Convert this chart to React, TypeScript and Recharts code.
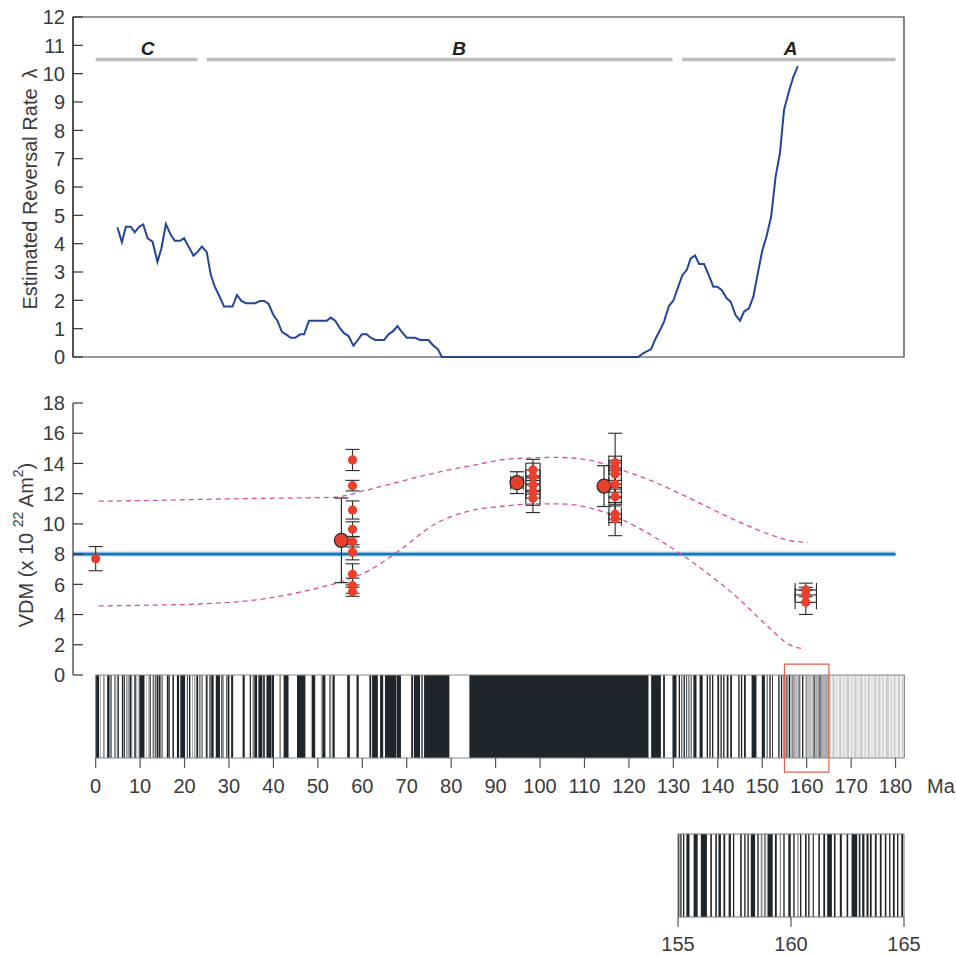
import React from "react";
import {
  ComposedChart,
  ErrorBar,
  Line,
  ReferenceArea,
  ReferenceLine,
  Scatter,
  XAxis,
  YAxis,
} from "recharts";

const FONT = "'Liberation Sans', Arial, Helvetica, sans-serif";
const INK = "#333";
const TEXT = "#3a3a3a";
const BAR = "#1f262b";
const AGE_DOMAIN: [number, number] = [-5.1, 181.9];

// estimated reversal rate (per Myr) against age (Ma)
const rateAge = [
  4.9, 5.9, 6.8, 7.9, 8.8, 9.8, 10.7, 11.7, 12.8, 13.9, 14.8, 15.8, 16.9, 17.8, 19.0, 19.9, 21.0, 22.0,
  22.9, 23.9, 25.0, 25.9, 26.8, 27.8, 28.9, 29.8, 30.8, 31.8, 32.8, 33.8, 34.9, 35.9, 37.0, 37.9, 38.9,
  40.0, 40.9, 41.9, 43.0, 43.9, 44.9, 46.0, 46.9, 48.0, 49.0, 50.0, 50.9, 52.0, 52.9, 53.9, 55.0, 55.9,
  56.9, 58.0, 59.0, 59.9, 61.0, 61.9, 62.9, 64.0, 64.9, 65.9, 67.0, 67.9, 68.9, 70.0, 70.9, 71.9, 73.0,
  73.9, 74.9, 76.0, 77.0, 77.9, 122.1, 123.2, 125.0, 125.9, 127.0, 127.9, 129.0, 130.0, 130.9, 132.0,
  133.0, 133.9, 134.9, 135.8, 136.9, 137.8, 139.0, 139.9, 140.9, 142.0, 142.9, 144.0, 145.0, 145.9,
  147.0, 148.0, 149.0, 150.0, 151.0, 152.0, 153.0, 154.0, 154.9, 156.0, 157.0, 158.0,
];
const rateValue = [
  4.58, 4.05, 4.6, 4.6, 4.4, 4.6, 4.68, 4.19, 4.07, 3.36, 3.84, 4.69, 4.31, 4.1, 4.1, 4.19, 3.87, 3.58,
  3.7, 3.9, 3.7, 2.9, 2.48, 2.16, 1.78, 1.78, 1.78, 2.19, 1.98, 1.9, 1.9, 1.9, 1.98, 1.98, 1.88,
  1.48, 1.28, 0.89, 0.78, 0.68, 0.68, 0.8, 0.8, 1.28, 1.28, 1.28, 1.28, 1.28, 1.39, 1.28, 1.01, 0.84,
  0.74, 0.4, 0.6, 0.8, 0.8, 0.68, 0.6, 0.6, 0.6, 0.8, 0.92, 1.09, 0.89, 0.68, 0.68, 0.68, 0.6,
  0.6, 0.6, 0.4, 0.28, 0, 0, 0.13, 0.28, 0.62, 0.95, 1.25, 1.8, 1.99, 2.39, 2.88,
  3.07, 3.48, 3.58, 3.28, 3.28, 2.95, 2.48, 2.48, 2.36, 2.07, 1.95, 1.48, 1.28, 1.6,
  1.72, 2.13, 2.95, 3.75, 4.28, 4.95, 6.36, 7.21, 8.72, 9.37, 9.89, 10.27,
];
const rateTicks = [0, 1, 2, 3, 4, 5, 6, 7, 8, 9, 10, 11, 12];

const phaseNames = ["C", "B", "A"];
const phaseStart = [0, 25, 132];
const phaseEnd = [22.9, 129.8, 180];
const phaseLabelAge = [11.7, 81.8, 156.4];
const phaseLevel = 10.5;
const phaseLabelLevel = 10.9;

// VDM (x 10^22 Am^2)
const vdmTicks = [0, 2, 4, 6, 8, 10, 12, 14, 16, 18];
const meanVdm = 8;
const meanAgeSpan = [AGE_DOMAIN[0], 180];

const upperAge = [0.7, 12, 23.5, 35, 46, 53.4, 61, 68.5, 76, 84.4, 93.4, 103.5, 111.4, 118, 124.7, 131.5, 138.2, 145, 151.7, 156.2, 160.3];
const upperVdm = [11.5, 11.55, 11.62, 11.68, 11.72, 11.76, 12.24, 12.8, 13.35, 13.85, 14.3, 14.4, 14.2, 13.6, 12.9, 12.0, 11.05, 10.1, 9.3, 8.9, 8.78];
const lowerAge = [0.7, 12, 23.5, 38.5, 49.7, 56.5, 61, 68.5, 76, 83.5, 91, 99.2, 104.5, 114.2, 121.7, 129.2, 136.7, 144.2, 151.7, 156.2, 159.5];
const lowerVdm = [4.57, 4.62, 4.7, 5.07, 5.74, 6.29, 6.84, 8.27, 9.93, 10.81, 11.15, 11.32, 11.32, 10.8, 9.81, 8.49, 6.95, 5.18, 3.09, 1.99, 1.72];

const dotAge = [0, 57.8, 57.8, 57.8, 57.8, 57.8, 57.8, 57.8, 57.8, 57.8, 98.4, 98.4, 98.4, 98.4, 98.4, 116.9, 116.9, 116.9, 116.9, 116.9, 116.9, 116.9, 159.8, 159.8, 159.8];
const dotVdm = [7.7, 14.23, 12.53, 10.92, 9.64, 8.82, 8.12, 6.66, 5.91, 5.51, 13.57, 13.12, 12.57, 12.13, 11.7, 14.05, 13.68, 13.3, 12.62, 11.8, 10.64, 10.32, 5.63, 5.3, 4.81];
const dotVdmErr = [0.8, 0.7, 0.35, 0.6, 0.5, 0.35, 0.5, 0.7, 0.5, 0.3, 0.7, 0.9, 0.6, 0.9, 0.95, 1.95, 0.8, 0.9, 0.9, 0.5, 0.55, 1.1, 0.45, 0.5, 0.8];
const dotAgeErr = [0, 0, 0, 0, 0, 0, 0, 0, 0, 0, 1.6, 1.6, 1.6, 1.6, 1.6, 1.4, 1.4, 1.4, 1.4, 1.4, 1.4, 1.4, 2.4, 2.4, 2.4];

const bigAge = [55.3, 94.8, 114.4];
const bigVdm = [8.91, 12.73, 12.5];
const bigVdmErr = [2.8, 0.72, 1.35];
const bigAgeErr = [0, 1.4, 0];

// polarity: normal intervals (Ma)
const normalChrons: [number, number][] = [
  [0, 0.78], [0.99, 1.07], [1.77, 1.95], [2.58, 3.04], [3.11, 3.22], [3.33, 3.58], [4.18, 4.29], [4.48, 4.62],
  [4.8, 4.89], [4.98, 5.23], [5.89, 6.14], [6.27, 6.57], [6.94, 7.09], [7.14, 7.17], [7.34, 7.38], [7.43, 7.56],
  [7.65, 8.07], [8.23, 8.26], [8.7, 9.03], [9.23, 9.31], [9.58, 9.64], [9.74, 9.88], [9.92, 10.95], [11.05, 11.1],
  [11.48, 11.53], [11.94, 12.08], [12.18, 12.4], [12.68, 12.71], [12.78, 12.82], [12.99, 13.14], [13.3, 13.51],
  [13.7, 14.08], [14.18, 14.61], [14.8, 14.89], [15.03, 15.16], [16.01, 16.29], [16.33, 16.49], [16.56, 16.73],
  [17.28, 17.62], [18.28, 18.78], [19.05, 20.13], [20.52, 20.73], [21.0, 21.32], [21.77, 21.86], [22.15, 22.25],
  [22.46, 22.49], [22.59, 22.75], [22.8, 23.07], [23.35, 23.54], [23.68, 23.8], [24.0, 24.12], [24.73, 24.78],
  [24.84, 25.18], [25.5, 25.65], [25.82, 25.95], [25.99, 26.55], [27.03, 27.97], [28.28, 28.51], [28.58, 28.75],
  [29.4, 29.66], [29.77, 30.1], [30.48, 30.94], [33.06, 33.55], [34.66, 34.94], [35.34, 35.53], [35.69, 36.34],
  [36.62, 37.47], [37.6, 37.85], [37.92, 38.11], [38.43, 39.55], [39.63, 40.13], [41.4, 41.6], [42.3, 43.4],
  [45.3, 47.2], [48.6, 49.4], [50.7, 50.8], [51.0, 51.7], [52.6, 52.8], [52.9, 53.0], [53.3, 53.8],
  [56.6, 57.2], [58.7, 59.2], [61.6, 62.0], [62.2, 63.5], [64.0, 64.7], [65.1, 67.7], [67.8, 68.7],
  [71.0, 71.4], [71.6, 73.0], [73.3, 73.6], [73.9, 79.6], [84.1, 124.4],
  [125.0, 127.2], [127.7, 128.1], [129.8, 130.7], [131.2, 131.5], [131.8, 132.0], [132.3, 132.6], [132.9, 133.1],
  [133.4, 133.6], [133.9, 134.1], [134.5, 135.2], [135.9, 136.6], [137.5, 137.8], [138.1, 138.4], [138.7, 139.0],
  [139.9, 140.3], [140.6, 140.9], [141.2, 141.5], [142.0, 142.4], [142.8, 143.2], [144.6, 144.9], [145.2, 145.5],
  [145.9, 146.3], [147.6, 148.7], [149.9, 150.6], [151.0, 151.2], [151.6, 151.9], [152.2, 152.4], [153.6, 153.9],
  [154.2, 154.5], [154.8, 155.0],
];

// detailed chrons for the 155-165 Ma window (inset)
const insetChrons: [number, number][] = [
  [155.0, 155.06], [155.1, 155.16], [155.22, 155.28], [155.37, 155.51], [155.69, 155.87], [156.01, 156.28],
  [156.43, 156.5], [156.65, 156.72], [156.79, 156.9], [157.01, 157.09], [157.24, 157.34], [157.43, 157.49],
  [157.75, 157.82], [157.93, 157.99], [158.07, 158.13], [158.22, 158.41], [158.51, 158.57], [158.96, 159.19],
  [159.29, 159.37], [159.66, 159.72], [159.88, 159.99], [160.1, 160.16], [160.4, 160.46], [160.62, 160.69],
  [160.76, 160.82], [160.96, 161.01], [161.21, 161.28], [161.43, 161.51], [161.6, 161.81], [161.9, 161.97],
  [162.16, 162.25], [162.46, 162.53], [162.68, 162.93], [163.0, 163.07], [163.15, 163.25], [163.34, 163.43],
  [163.49, 163.57], [163.71, 163.79], [163.93, 164.01], [164.15, 164.22], [164.34, 164.4], [164.51, 164.59],
  [164.69, 164.75], [164.88, 164.96],
];
const insetGreyChrons: [number, number][] = [
  [158.66, 158.74], [158.8, 158.9], [159.5, 159.56], [160.28, 160.34],
];

// uncertain (light) stripes beyond 165 Ma
const quietChrons: [number, number][] = [
  [165.0, 165.4], [165.8, 166.3], [166.7, 166.9], [167.3, 167.8], [168.2, 168.5], [168.9, 169.6], [170.0, 170.3],
  [170.7, 171.2], [171.5, 171.7], [172.0, 172.6], [173.0, 173.3], [173.7, 174.2], [174.6, 174.8], [175.2, 175.7],
  [176.1, 176.6], [177.0, 177.3], [177.8, 178.5], [178.9, 179.2], [179.6, 180.0], [180.5, 181.0], [181.4, 181.8],
];
const barSpan = [0, 182];
const ageTicks = [0, 10, 20, 30, 40, 50, 60, 70, 80, 90, 100, 110, 120, 130, 140, 150, 160, 170, 180];
const insetRange: [number, number] = [155, 165];
const insetTicks = [155, 160, 165];

const rateData = rateAge.map((x, i) => ({ x, y: rateValue[i] }));
const phaseLabels = phaseNames.map((name, i) => ({ x: phaseLabelAge[i], y: phaseLabelLevel, name }));
const upperData = upperAge.map((x, i) => ({ x, y: upperVdm[i] }));
const lowerData = lowerAge.map((x, i) => ({ x, y: lowerVdm[i] }));
const dotData = dotAge.map((x, i) => ({
  x,
  y: dotVdm[i],
  ey: dotVdmErr[i],
  ex: dotAgeErr[i] > 0 ? dotAgeErr[i] : undefined,
}));
const bigData = bigAge.map((x, i) => ({
  x,
  y: bigVdm[i],
  ey: bigVdmErr[i],
  ex: bigAgeErr[i] > 0 ? bigAgeErr[i] : undefined,
}));
// corner points so the strip charts get a y scale
const barFrame = [
  { x: barSpan[0], y: 0 },
  { x: barSpan[1], y: 1 },
];
const insetFrame = [
  { x: insetRange[0], y: 0 },
  { x: insetRange[1], y: 1 },
];

function YTick(props: any) {
  const { x, y, payload } = props;
  return (
    <g>
      <line x1={x + 8} x2={x + 18} y1={y} y2={y} stroke={INK} strokeWidth={1.2} />
      <text x={x} y={y} dy="0.36em" textAnchor="end" fontSize={20} fill={TEXT} fontFamily={FONT}>
        {payload.value}
      </text>
    </g>
  );
}

function XTick(props: any) {
  const { x, y, payload } = props;
  return (
    <g>
      <line x1={x} x2={x} y1={y} y2={y + 10} stroke="#555" strokeWidth={1.2} />
      <text x={x} y={y + 28} dy="0.36em" textAnchor="middle" fontSize={20} fill={TEXT} fontFamily={FONT}>
        {payload.value}
      </text>
    </g>
  );
}

function InsetTick(props: any) {
  const { x, y, payload } = props;
  return (
    <g>
      <line x1={x} x2={x} y1={y} y2={y + 10} stroke="#555" strokeWidth={1.2} />
      <text x={x} y={y + 27} dy="0.36em" textAnchor="middle" fontSize={20} fill={TEXT} fontFamily={FONT}>
        {payload.value}
      </text>
    </g>
  );
}

function RateTitle(props: any) {
  const vb = props.viewBox ?? { x: 0, y: 17, width: 73, height: 340 };
  const cx = vb.x + 30;
  const cy = vb.y + vb.height / 2 + 2;
  return (
    <text
      x={cx}
      y={cy}
      transform={`rotate(-90 ${cx} ${cy})`}
      textAnchor="middle"
      dominantBaseline="central"
      fontSize={20}
      fill={TEXT}
      fontFamily={FONT}
    >
      Estimated Reversal Rate{"\u2002"}λ
    </text>
  );
}

function VdmTitle(props: any) {
  const vb = props.viewBox ?? { x: 0, y: 403, width: 73, height: 272 };
  const cx = vb.x + 26;
  const cy = vb.y + vb.height / 2 + 6;
  return (
    <text
      x={cx}
      y={cy}
      transform={`rotate(-90 ${cx} ${cy})`}
      textAnchor="middle"
      dominantBaseline="central"
      fontSize={20}
      fill={TEXT}
      fontFamily={FONT}
    >
      VDM (x 10 <tspan fontSize={14} dy={-8}>22</tspan>
      <tspan dy={8}> Am</tspan>
      <tspan fontSize={14} dy={-8}>2</tspan>
      <tspan dy={8}>)</tspan>
    </text>
  );
}

function MaTitle(props: any) {
  const vb = props.viewBox ?? { x: 73, y: 758, width: 831, height: 42 };
  return (
    <text x={vb.x + vb.width + 23} y={vb.y + 28} dy="0.36em" fontSize={20} fill={TEXT} fontFamily={FONT}>
      Ma
    </text>
  );
}

function PhaseText(props: any) {
  const { cx, cy, payload } = props;
  return (
    <text x={cx} y={cy} dy="0.36em" textAnchor="middle" fontSize={19} fontWeight="bold" fontStyle="italic" fill="#222" fontFamily={FONT}>
      {payload.name}
    </text>
  );
}

function SmallDot(props: any) {
  const { cx, cy } = props;
  return <circle cx={cx} cy={cy} r={4.6} fill="#e8402c" />;
}

function BigDot(props: any) {
  const { cx, cy } = props;
  return <circle cx={cx} cy={cy} r={7} fill="#e8402c" stroke="#2b2b2b" strokeWidth={1.3} />;
}

function Blank() {
  return <g />;
}

function RateChart() {
  return (
    <ComposedChart width={956} height={380} margin={{ top: 17, right: 52, bottom: 23, left: 0 }}>
      <XAxis type="number" dataKey="x" domain={AGE_DOMAIN} allowDataOverflow hide />
      <YAxis
        type="number"
        dataKey="y"
        domain={[0, 12]}
        ticks={rateTicks}
        interval={0}
        width={73}
        tickSize={0}
        tickMargin={8}
        tickLine={false}
        axisLine={{ stroke: INK, strokeWidth: 1.2 }}
        tick={<YTick />}
        label={RateTitle}
      />
      <ReferenceArea
        x1={AGE_DOMAIN[0]}
        x2={AGE_DOMAIN[1]}
        y1={0}
        y2={12}
        fill="none"
        fillOpacity={0}
        stroke={INK}
        strokeWidth={1.2}
        ifOverflow="visible"
      />
      {phaseNames.map((name, i) => (
        <ReferenceLine
          key={name}
          segment={[
            { x: phaseStart[i], y: phaseLevel },
            { x: phaseEnd[i], y: phaseLevel },
          ]}
          stroke="#bdbdbd"
          strokeWidth={3.5}
          ifOverflow="visible"
        />
      ))}
      <Scatter data={phaseLabels} dataKey="y" shape={<PhaseText />} isAnimationActive={false} />
      <Line
        data={rateData}
        dataKey="y"
        type="linear"
        stroke="#23449a"
        strokeWidth={2}
        dot={false}
        activeDot={false}
        isAnimationActive={false}
      />
    </ComposedChart>
  );
}

function VdmChart() {
  return (
    <ComposedChart width={956} height={320} margin={{ top: 23, right: 52, bottom: 25, left: 0 }}>
      <XAxis type="number" dataKey="x" domain={AGE_DOMAIN} allowDataOverflow hide />
      <YAxis
        type="number"
        dataKey="y"
        domain={[0, 18]}
        ticks={vdmTicks}
        interval={0}
        width={73}
        tickSize={0}
        tickMargin={8}
        tickLine={false}
        axisLine={{ stroke: INK, strokeWidth: 1.2 }}
        tick={<YTick />}
        label={VdmTitle}
        allowDataOverflow
      />
      <ReferenceLine
        segment={[
          { x: meanAgeSpan[0], y: meanVdm },
          { x: meanAgeSpan[1], y: meanVdm },
        ]}
        stroke="#b3d5ef"
        strokeWidth={5}
        ifOverflow="visible"
      />
      <ReferenceLine
        segment={[
          { x: meanAgeSpan[0], y: meanVdm },
          { x: meanAgeSpan[1], y: meanVdm },
        ]}
        stroke="#1778c0"
        strokeWidth={2.6}
        ifOverflow="visible"
      />
      <Line data={upperData} dataKey="y" type="monotone" stroke="#d94da3" strokeWidth={1.3} strokeDasharray="5 4" dot={false} activeDot={false} isAnimationActive={false} />
      <Line data={lowerData} dataKey="y" type="monotone" stroke="#d94da3" strokeWidth={1.3} strokeDasharray="5 4" dot={false} activeDot={false} isAnimationActive={false} />
      <Scatter data={bigData} dataKey="y" shape={<BigDot />} isAnimationActive={false}>
        <ErrorBar dataKey="ey" direction="y" width={7} stroke="#2b2b2b" strokeWidth={1.2} />
        <ErrorBar dataKey="ex" direction="x" width={7} stroke="#2b2b2b" strokeWidth={1.2} />
      </Scatter>
      <Scatter data={dotData} dataKey="y" shape={<SmallDot />} isAnimationActive={false}>
        <ErrorBar dataKey="ey" direction="y" width={7} stroke="#2b2b2b" strokeWidth={1.1} />
        <ErrorBar dataKey="ex" direction="x" width={7} stroke="#2b2b2b" strokeWidth={1.1} />
      </Scatter>
    </ComposedChart>
  );
}

function PolarityChart() {
  return (
    <ComposedChart width={956} height={140} margin={{ top: 15, right: 52, bottom: 0, left: 73 }}>
      <XAxis
        type="number"
        dataKey="x"
        domain={AGE_DOMAIN}
        allowDataOverflow
        ticks={ageTicks}
        interval={0}
        height={42}
        tickSize={0}
        tickMargin={0}
        tickLine={false}
        axisLine={false}
        tick={<XTick />}
        label={MaTitle}
      />
      <YAxis type="number" dataKey="y" domain={[0, 1]} allowDataOverflow hide />
      <Scatter data={barFrame} dataKey="y" shape={<Blank />} isAnimationActive={false} />
      <ReferenceArea x1={165} x2={barSpan[1]} y1={0} y2={1} fill="#f1f1f1" fillOpacity={1} stroke="none" ifOverflow="visible" />
      {quietChrons.map(([a, b]) => (
        <ReferenceArea key={`q${a}`} x1={a} x2={b} y1={0} y2={1} fill="#cdcdcd" fillOpacity={1} stroke="none" ifOverflow="visible" />
      ))}
      {normalChrons.map(([a, b]) => (
        <ReferenceArea key={`n${a}`} x1={a} x2={b} y1={0} y2={1} fill={BAR} fillOpacity={1} stroke="none" ifOverflow="visible" />
      ))}
      {insetChrons.map(([a, b]) => (
        <ReferenceArea key={`i${a}`} x1={a} x2={b} y1={0} y2={1} fill={BAR} fillOpacity={1} stroke="none" ifOverflow="visible" />
      ))}
      <ReferenceArea x1={barSpan[0]} x2={barSpan[1]} y1={0} y2={1} fill="none" fillOpacity={0} stroke="#888" strokeWidth={1} ifOverflow="visible" />
      <ReferenceArea
        x1={insetRange[0]}
        x2={insetRange[1]}
        y1={-0.17}
        y2={1.13}
        fill="none"
        fillOpacity={0}
        stroke="#e0604c"
        strokeWidth={1.2}
        ifOverflow="visible"
      />
    </ComposedChart>
  );
}

function InsetChart() {
  return (
    <ComposedChart width={956} height={136} margin={{ top: 14, right: 52, bottom: 0, left: 678 }}>
      <XAxis
        type="number"
        dataKey="x"
        domain={insetRange}
        allowDataOverflow
        ticks={insetTicks}
        interval={0}
        height={39}
        tickSize={0}
        tickMargin={0}
        tickLine={false}
        axisLine={false}
        tick={<InsetTick />}
      />
      <YAxis type="number" dataKey="y" domain={[0, 1]} allowDataOverflow hide />
      <Scatter data={insetFrame} dataKey="y" shape={<Blank />} isAnimationActive={false} />
      {insetGreyChrons.map(([a, b]) => (
        <ReferenceArea key={`g${a}`} x1={a} x2={b} y1={0} y2={1} fill="#8a8a8a" fillOpacity={1} stroke="none" ifOverflow="visible" />
      ))}
      {insetChrons.map(([a, b]) => (
        <ReferenceArea key={`i${a}`} x1={a} x2={b} y1={0} y2={1} fill={BAR} fillOpacity={1} stroke="none" ifOverflow="visible" />
      ))}
      <ReferenceArea x1={insetRange[0]} x2={insetRange[1]} y1={0} y2={1} fill="none" fillOpacity={0} stroke="#777" strokeWidth={1} ifOverflow="visible" />
    </ComposedChart>
  );
}

export default function App() {
  return (
    <div style={{ position: "absolute", left: 0, top: 0, width: 956, height: 956, background: "#fff" }}>
      <div style={{ position: "absolute", left: 0, top: 660 }}>
        <PolarityChart />
      </div>
      <div style={{ position: "absolute", left: 0, top: 820 }}>
        <InsetChart />
      </div>
      <div style={{ position: "absolute", left: 0, top: 0 }}>
        <RateChart />
      </div>
      <div style={{ position: "absolute", left: 0, top: 380 }}>
        <VdmChart />
      </div>
    </div>
  );
}
